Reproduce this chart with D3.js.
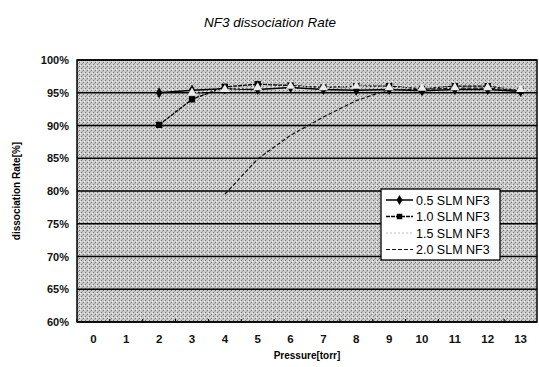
<!DOCTYPE html>
<html>
<head>
<meta charset="utf-8">
<script src="https://cdn.jsdelivr.net/npm/d3@7"></script>
<style>
  body { margin: 0; background: #fff; }
  text { font-family: "Liberation Sans", Arial, sans-serif; }
</style>
</head>
<body>
<div id="chart"></div>
<script>
// pressure categories (torr)
const pressures = [0, 1, 2, 3, 4, 5, 6, 7, 8, 9, 10, 11, 12, 13];
const yTicks = [0.60, 0.65, 0.70, 0.75, 0.80, 0.85, 0.90, 0.95, 1.00];

// series values, null where no point
const slm05 = [null, null, 0.950, 0.954, 0.956, 0.955, 0.958, 0.955, 0.954, 0.955, 0.953, 0.955, 0.955, 0.952];
const slm10 = [null, null, 0.901, 0.940, 0.959, 0.963, 0.961, 0.958, 0.960, 0.960, 0.956, 0.960, 0.960, 0.953];
const slm15 = [null, null, null, 0.950, 0.955, 0.958, 0.960, 0.958, 0.960, 0.958, 0.957, 0.958, 0.958, 0.955];
const slm20 = [null, null, null, null, 0.795, 0.849, 0.885, 0.913, 0.938, 0.955, 0.955, 0.957, 0.957, 0.953];

const seriesNames = ['0.5 SLM NF3', '1.0 SLM NF3', '1.5 SLM NF3', '2.0 SLM NF3'];

const width = 539, height = 367;
const margin = { top: 60, right: 2, bottom: 45, left: 77 };
const w = width - margin.left - margin.right;
const h = height - margin.top - margin.bottom;

const svg = d3.select('#chart').append('svg')
  .attr('width', width)
  .attr('height', height);

// stipple pattern for the plot background
const defs = svg.append('defs');
const pat = defs.append('pattern')
  .attr('id', 'stip')
  .attr('width', 4).attr('height', 4)
  .attr('patternUnits', 'userSpaceOnUse');
pat.append('rect').attr('width', 4).attr('height', 4).attr('fill', '#cdcdcd');
pat.append('rect').attr('x', 0).attr('y', 0).attr('width', 1).attr('height', 1).attr('fill', '#6e6e6e');
pat.append('rect').attr('x', 2).attr('y', 2).attr('width', 1).attr('height', 1).attr('fill', '#6e6e6e');
pat.append('rect').attr('x', 1).attr('y', 3).attr('width', 1).attr('height', 1).attr('fill', '#9a9a9a');
pat.append('rect').attr('x', 3).attr('y', 1).attr('width', 1).attr('height', 1).attr('fill', '#f4f4f4');

const x = d3.scaleBand()
  .domain(pressures)
  .range([0, w]);

const y = d3.scaleLinear()
  .domain([0.60, 1.00])
  .range([h, 0]);

const g = svg.append('g')
  .attr('transform', 'translate(' + margin.left + ',' + margin.top + ')');

g.append('rect')
  .attr('width', w)
  .attr('height', h)
  .attr('fill', 'url(#stip)');

// horizontal grid
g.append('g')
  .selectAll('line')
  .data(yTicks)
  .enter().append('line')
  .attr('x1', 0).attr('x2', w)
  .attr('y1', d => y(d)).attr('y2', d => y(d))
  .attr('stroke', '#000')
  .attr('stroke-width', 1.3);

// border
g.append('rect')
  .attr('width', w).attr('height', h)
  .attr('fill', 'none')
  .attr('stroke', '#000')
  .attr('stroke-width', 1.5);

// y axis
const yAxis = g.append('g')
  .call(d3.axisLeft(y).tickValues(yTicks).tickSize(0).tickPadding(8).tickFormat(d3.format('.0%')));
yAxis.select('.domain').remove();
yAxis.selectAll('text')
  .attr('font-size', 11)
  .attr('font-weight', 'bold')
  .attr('fill', '#111');

// x axis
const xAxis = g.append('g')
  .attr('transform', 'translate(0,' + h + ')')
  .call(d3.axisBottom(x).tickSize(0).tickPadding(13));
xAxis.select('.domain').remove();
xAxis.selectAll('text')
  .attr('font-size', 11.5)
  .attr('font-weight', 'bold')
  .attr('fill', '#111');

// small tick marks between categories
g.append('g')
  .selectAll('line')
  .data(pressures)
  .enter().append('line')
  .attr('x1', d => x(d)).attr('x2', d => x(d))
  .attr('y1', h).attr('y2', h - 3)
  .attr('stroke', '#000');

const line = d3.line()
  .defined(d => d != null)
  .x((d, i) => x(pressures[i]) + x.bandwidth() / 2)
  .y(d => y(d));

const styles = [
  { data: slm05, color: '#000', dash: null, width: 1.5, marker: 'diamond' },
  { data: slm10, color: '#000', dash: '4,1', width: 1.3, marker: 'square' },
  { data: slm15, color: '#ececec', dash: '2,2', width: 1, marker: 'tri' },
  { data: slm20, color: '#111', dash: '4,2', width: 1.2, marker: null }
];

styles.forEach(s => {
  g.append('path')
    .datum(s.data)
    .attr('fill', 'none')
    .attr('stroke', s.color)
    .attr('stroke-width', s.width)
    .attr('stroke-dasharray', s.dash)
    .attr('d', line);
});

function markerPath(type, size) {
  if (type === 'diamond') return d3.symbol(d3.symbolDiamond, size)();
  if (type === 'square') return d3.symbol(d3.symbolSquare, size)();
  if (type === 'tri') return d3.symbol(d3.symbolTriangle, size)();
  return null;
}

styles.forEach(s => {
  if (!s.marker) return;
  g.append('g')
    .selectAll('path')
    .data(s.data.map((v, i) => ({ v: v, p: pressures[i] })).filter(d => d.v != null))
    .enter().append('path')
    .attr('transform', d => 'translate(' + (x(d.p) + x.bandwidth() / 2) + ',' + y(d.v) + ')')
    .attr('d', markerPath(s.marker, s.marker === 'square' ? 40 : 36))
    .attr('fill', s.color);
});

// legend
const lg = svg.append('g').attr('transform', 'translate(381,189)');
lg.append('rect')
  .attr('width', 119).attr('height', 71)
  .attr('fill', '#fff')
  .attr('stroke', '#000')
  .attr('stroke-width', 1.3);

seriesNames.forEach((name, i) => {
  const s = styles[i];
  const ly = 11 + i * 16.5;
  lg.append('line')
    .attr('x1', 5).attr('x2', 32)
    .attr('y1', ly).attr('y2', ly)
    .attr('stroke', i === 2 ? '#bbb' : s.color)
    .attr('stroke-width', s.width)
    .attr('stroke-dasharray', s.dash);
  if (s.marker && i < 2) {
    lg.append('path')
      .attr('transform', 'translate(18.5,' + ly + ')')
      .attr('d', markerPath(s.marker, 30))
      .attr('fill', s.color);
  }
  lg.append('text')
    .attr('x', 35).attr('y', ly + 4.5)
    .attr('font-size', 12.5)
    .attr('fill', '#000')
    .text(name);
});

// titles
svg.append('text')
  .attr('x', 270).attr('y', 27)
  .attr('text-anchor', 'middle')
  .attr('font-size', 13.5)
  .attr('font-style', 'italic')
  .text('NF3 dissociation Rate');

svg.append('text')
  .attr('x', 307).attr('y', 359)
  .attr('text-anchor', 'middle')
  .attr('font-size', 10)
  .attr('font-weight', 'bold')
  .text('Pressure[torr]');

svg.append('text')
  .attr('transform', 'translate(20,' + (margin.top + h / 2) + ') rotate(-90)')
  .attr('text-anchor', 'middle')
  .attr('font-size', 10)
  .attr('font-weight', 'bold')
  .text('dissociation Rate[%]');
</script>
</body>
</html>
